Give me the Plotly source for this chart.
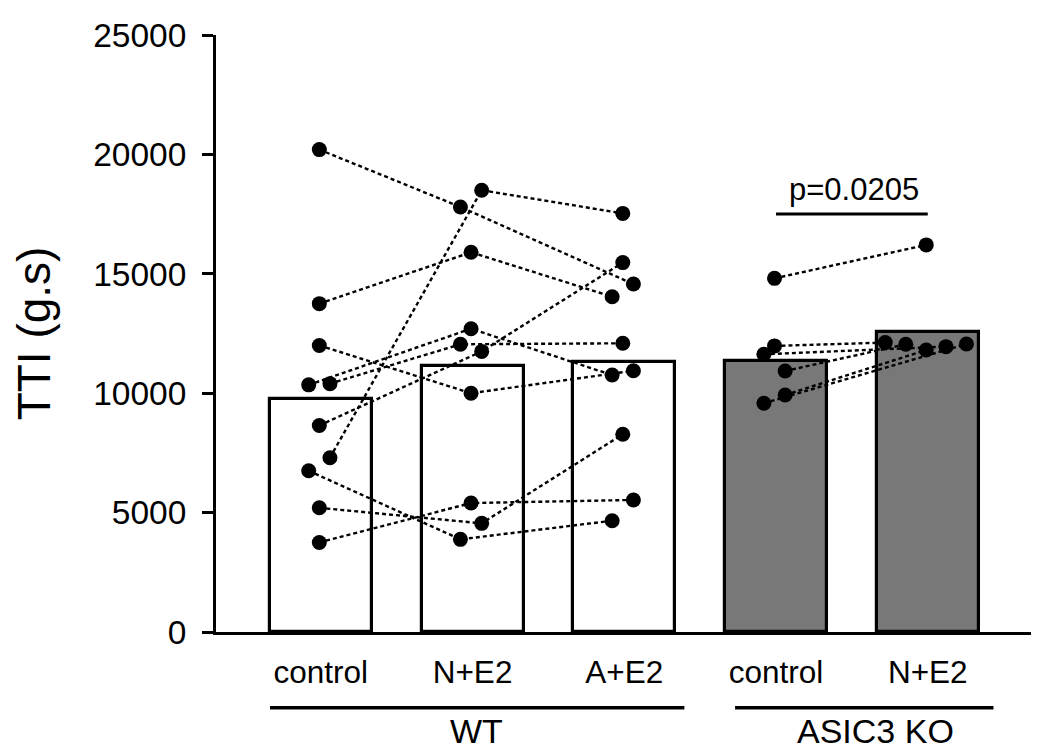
import plotly.graph_objects as go

# ---------------- data ----------------
tick_labels = ["control", "N+E2", "A+E2", "control", "N+E2"]
group_names = ["WT", "ASIC3 KO"]
bar_values = [9750, 11150, 11300, 11350, 12550]
y_ticks = [0, 5000, 10000, 15000, 20000, 25000]

# WT: paired subjects (control -> N+E2 -> A+E2)
wt_control = [20200, 13750, 12000, 10350, 10400, 8650, 7300, 6750, 5200, 3750]
wt_ne2 = [17800, 15900, 10000, 12700, 12050, 11750, 18500, 3880, 4550, 5400]
wt_ae2 = [14570, 14040, 10940, 10760, 12090, 15470, 17530, 4660, 8280, 5530]

# ASIC3 KO: paired subjects (control -> N+E2)
ko_control = [14810, 11980, 11630, 10930, 9925, 9580]
ko_ne2 = [16210, 12120, 11950, 12050, 11810, 12060]

p_text = "p=0.0205"

# ---------------- styling (point scatter offsets, colours) ----------------
wt_control_off = [-0.01, -0.01, -0.01, -0.08, 0.06, -0.01, 0.06, -0.08, -0.01, -0.01]
wt_ne2_off = [-0.08, -0.01, -0.01, -0.01, -0.08, 0.06, 0.06, -0.08, 0.06, -0.01]
wt_ae2_off = [0.06, -0.08, 0.06, -0.08, -0.01, -0.01, -0.01, -0.08, -0.01, 0.06]
ko_control_off = [-0.01, -0.01, -0.08, 0.06, 0.06, -0.08]
ko_ne2_off = [-0.01, -0.28, 0.12, -0.145, -0.01, 0.255]

bar_colors = ["white", "white", "white", "#787878", "#787878"]
FONT = "Liberation Sans, Arial, Helvetica, sans-serif"

fig = go.Figure()

fig.add_trace(go.Bar(
    x=list(range(len(bar_values))), y=bar_values, width=0.672,
    marker=dict(color=bar_colors, line=dict(color="black", width=3.2)),
    showlegend=False, hoverinfo="skip"))

line_style = dict(color="black", width=2.4, dash="4px,3px")

# WT paired lines
for i in range(len(wt_control)):
    fig.add_trace(go.Scatter(
        x=[0 + wt_control_off[i], 1 + wt_ne2_off[i], 2 + wt_ae2_off[i]],
        y=[wt_control[i], wt_ne2[i], wt_ae2[i]],
        mode="lines", line=line_style, showlegend=False, hoverinfo="skip"))

# KO paired lines
for i in range(len(ko_control)):
    fig.add_trace(go.Scatter(
        x=[3 + ko_control_off[i], 4 + ko_ne2_off[i]],
        y=[ko_control[i], ko_ne2[i]],
        mode="lines", line=line_style, showlegend=False, hoverinfo="skip"))

# points
all_sets = [
    (0, wt_control, wt_control_off),
    (1, wt_ne2, wt_ne2_off),
    (2, wt_ae2, wt_ae2_off),
    (3, ko_control, ko_control_off),
    (4, ko_ne2, ko_ne2_off),
]
for idx, vals, offs in all_sets:
    fig.add_trace(go.Scatter(
        x=[idx + o for o in offs], y=vals, mode="markers",
        marker=dict(color="black", size=15, line=dict(width=0)),
        showlegend=False, hoverinfo="skip"))

# group underline bars and labels
fig.add_shape(type="line", xref="x", yref="paper", x0=-0.335, x1=2.396,
              y0=-0.127, y1=-0.127, line=dict(color="black", width=3.5))
fig.add_shape(type="line", xref="x", yref="paper", x0=2.73, x1=4.433,
              y0=-0.127, y1=-0.127, line=dict(color="black", width=3.5))
fig.add_annotation(x=1.028, y=-0.165, xref="x", yref="paper", text=group_names[0],
                   showarrow=False, font=dict(size=34, color="black", family=FONT),
                   yanchor="middle")
fig.add_annotation(x=3.653, y=-0.165, xref="x", yref="paper", text=group_names[1],
                   showarrow=False, font=dict(size=34, color="black", family=FONT),
                   yanchor="middle")

# significance bar
fig.add_shape(type="line", xref="x", yref="y", x0=3, x1=4, y0=17500, y1=17500,
              line=dict(color="black", width=3))
fig.add_annotation(x=3.515, y=18510, xref="x", yref="y", text=p_text, showarrow=False,
                   font=dict(size=31, color="black", family=FONT), yanchor="middle")

# page body has an 8px margin, so the figure is sized/offset to compensate
fig.update_layout(
    width=1031, height=745,
    margin=dict(l=208, r=2, t=27, b=121),
    paper_bgcolor="white", plot_bgcolor="white",
    font=dict(family=FONT, color="black"),
    bargap=0,
)
fig.update_xaxes(
    range=[-0.691, 4.72], tickmode="array", tickvals=list(range(5)), ticktext=tick_labels,
    tickfont=dict(size=31.5, family=FONT, color="black"), ticks="",
    showline=True, linecolor="black", linewidth=3, showgrid=False, zeroline=False,
    ticklabelstandoff=10,
)
fig.update_yaxes(
    range=[0, 25000], tickmode="array", tickvals=y_ticks,
    ticktext=[str(v) for v in y_ticks],
    ticks="outside", ticklen=11, tickwidth=3, tickcolor="black",
    tickfont=dict(size=33.5, family=FONT, color="black"),
    showline=True, linecolor="black", linewidth=3, showgrid=False, zeroline=False,
    ticklabelstandoff=9,
    title=dict(text="TTI (g.s)", font=dict(size=46, family=FONT, color="black"), standoff=30),
)

fig.write_html("out.html")
